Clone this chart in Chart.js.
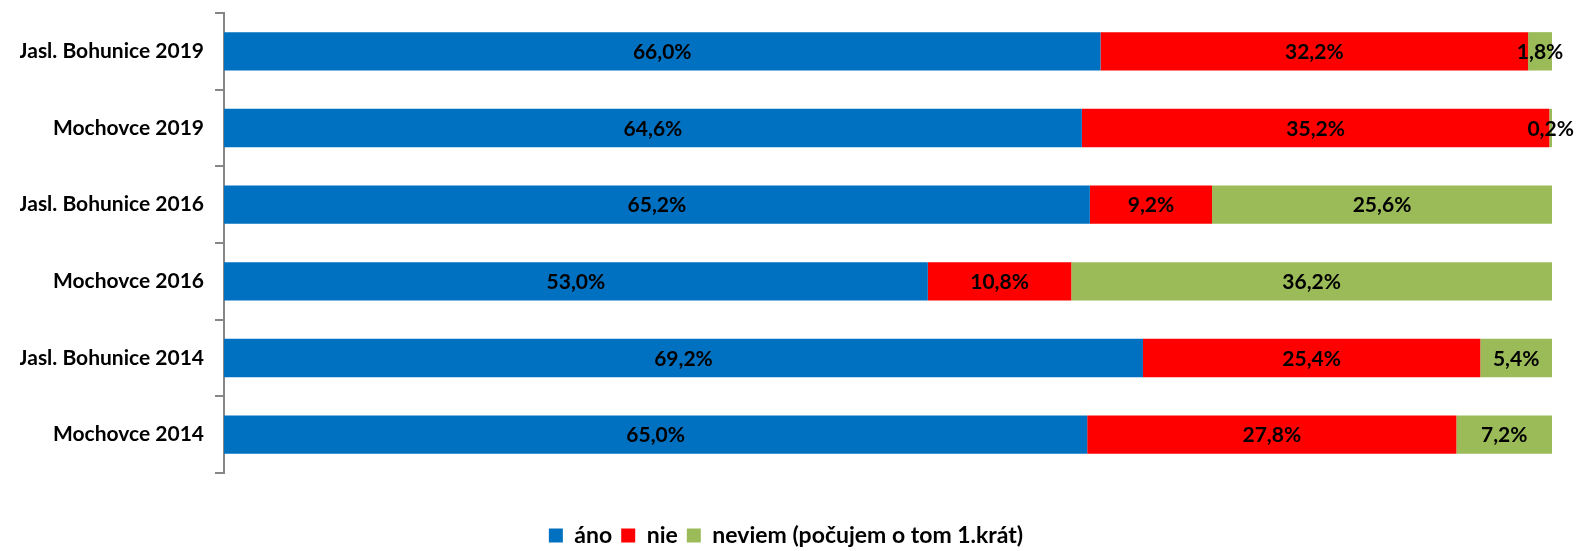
<!DOCTYPE html>
<html>
<head>
<meta charset="utf-8">
<script src="https://cdn.jsdelivr.net/npm/chart.js@4/dist/chart.umd.min.js"></script>
<style>
  html, body { margin: 0; padding: 0; background: #fff; }
  #wrap { width: 1577px; height: 551px; position: relative; }
</style>
</head>
<body>
<div id="wrap"><canvas id="myChart"></canvas></div>
<script>
// data
const categories = ['Jasl. Bohunice 2019', 'Mochovce 2019', 'Jasl. Bohunice 2016', 'Mochovce 2016', 'Jasl. Bohunice 2014', 'Mochovce 2014'];
const seriesNames = ['áno', 'nie', 'neviem (počujem o tom 1.krát)'];
const ano = [66.0, 64.6, 65.2, 53.0, 69.2, 65.0];
const nie = [32.2, 35.2, 9.2, 10.8, 25.4, 27.8];
const neviem = [1.8, 0.2, 25.6, 36.2, 5.4, 7.2];
const colors = ['#0070C0', '#FF0000', '#9BBB59'];

const fontFamily = 'Lato, "Noto Sans", sans-serif';

// value labels in the middle of each segment
const barLabels = {
    id: 'barLabels',
    afterDatasetsDraw(chart) {
        const ctx = chart.ctx;
        ctx.save();
        ctx.font = 'bold 21px ' + fontFamily;
        ctx.fillStyle = '#000';
        ctx.textAlign = 'center';
        ctx.textBaseline = 'middle';
        chart.data.datasets.forEach((ds, i) => {
            const meta = chart.getDatasetMeta(i);
            meta.data.forEach((bar, j) => {
                const v = ds.data[j];
                const x = (bar.x + bar.base) / 2;
                ctx.fillText(v.toFixed(1).replace('.', ',') + '%', x, bar.y + 1);
            });
        });
        ctx.restore();
    }
};

const data = {
    labels: categories,
    datasets: [ano, nie, neviem].map((vals, i) => ({
        label: seriesNames[i],
        data: vals,
        backgroundColor: colors[i],
        borderWidth: 0,
        categoryPercentage: 1,
        barPercentage: 0.5
    }))
};

const config = {
    type: 'bar',
    data: data,
    options: {
        indexAxis: 'y',
        responsive: true,
        maintainAspectRatio: false,
        animation: false,
        layout: { padding: { top: 0, right: 25, left: 20, bottom: -6 } },
        scales: {
            x: { stacked: true, display: false, min: 0, max: 100 },
            y: {
                stacked: true,
                afterFit: (s) => {
                    s.width = 204;
                    s.paddingTop = 13;
                    s.paddingBottom = 0;
                },
                border: { color: '#868686', width: 2 },
                grid: { drawOnChartArea: false, offset: true, tickLength: 9, color: '#868686', lineWidth: 2 },
                ticks: { color: '#000', padding: 11, font: { family: fontFamily, size: 21, weight: 'bold' } }
            }
        },
        plugins: {
            tooltip: { enabled: false },
            legend: {
                position: 'bottom',
                title: { display: true, text: '', font: { size: 10 }, padding: { top: 30, bottom: 0 } },
                labels: {
                    boxWidth: 14,
                    boxHeight: 14,
                    padding: 9,
                    color: '#000',
                    font: { family: fontFamily, size: 23, weight: 'bold' }
                }
            }
        }
    },
    plugins: [barLabels]
};

const myChart = new Chart(document.getElementById('myChart'), config);
</script>
</body>
</html>
